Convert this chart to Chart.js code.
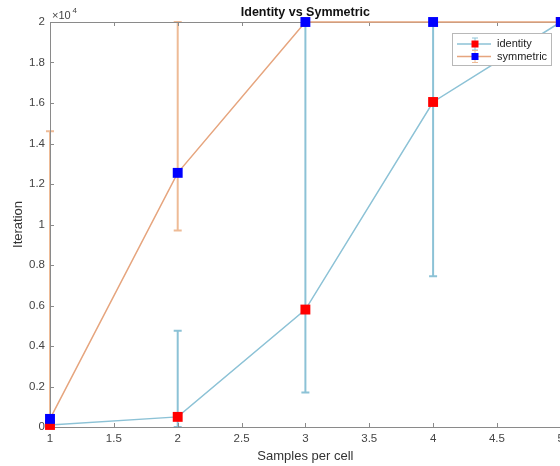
<!DOCTYPE html>
<html>
<head>
<meta charset="utf-8">
<script src="https://cdn.jsdelivr.net/npm/chart.js@4/dist/chart.umd.min.js"></script>
<style>
html,body{margin:0;padding:0;overflow:hidden;background:#fff;}
#wrap{width:569px;height:466px;}
canvas{display:block;}
</style>
</head>
<body>
<div id="wrap"><canvas id="c" width="569" height="466" style="width:569px;height:466px"></canvas></div>
<script>
// ---- data ----
const samples = [1, 2, 3, 4, 5];
const identityMean  = [100, 500, 5800, 16050, 20000];
const identityLow   = [100, 0, 1700, 7450, 20000];
const identityHigh  = [100, 4750, 20000, 20000, 20000];
const symmetricMean = [400, 12550, 20000, 20000, 20000];
const symmetricLow  = [0, 9700, 20000, 20000, 20000];
const symmetricHigh = [14600, 20000, 20000, 20000, 20000];
const seriesNames = ['identity', 'symmetric'];
const chartTitle = 'Identity vs Symmetric';
const xTitle = 'Samples per cell';
const yTitle = 'Iteration';

const FONT = "'Liberation Sans', Arial, sans-serif";
const C_ID_LINE = '#8cc2d6';
const C_SY_LINE = '#e6a57e';
const C_SY_ERR = '#eebb96';
const AX = '#8a8a8a';

const toPts = (xs, ys) => xs.map((x, i) => ({x: x, y: ys[i]}));

const errorBars = {
  id: 'errorBars',
  beforeDatasetsDraw(chart) {
    const {ctx, chartArea: a, scales: {x, y}} = chart;
    const sets = [
      {lo: identityLow, hi: identityHigh, c: C_ID_LINE},
      {lo: symmetricLow, hi: symmetricHigh, c: C_SY_ERR}
    ];
    ctx.save();
    ctx.beginPath();
    ctx.rect(a.left - 6, a.top - 1, a.right - a.left + 12, a.bottom - a.top + 2);
    ctx.clip();
    sets.forEach(s => {
      ctx.strokeStyle = s.c;
      ctx.lineWidth = 2;
      samples.forEach((sx, i) => {
        const px = x.getPixelForValue(sx);
        const y1 = y.getPixelForValue(s.lo[i]);
        const y2 = y.getPixelForValue(s.hi[i]);
        if (Math.abs(y1 - y2) < 0.5) return;
        ctx.beginPath();
        ctx.moveTo(px, y1); ctx.lineTo(px, y2);
        ctx.moveTo(px - 4, y1); ctx.lineTo(px + 4, y1);
        ctx.moveTo(px - 4, y2); ctx.lineTo(px + 4, y2);
        ctx.stroke();
      });
    });
    ctx.restore();
  }
};

const frame = {
  id: 'frame',
  beforeDatasetsDraw(chart) {
    const {ctx, chartArea: a, scales: {x, y}} = chart;
    ctx.save();
    ctx.strokeStyle = AX;
    ctx.lineWidth = 1;
    ctx.beginPath();
    ctx.moveTo(a.left + 0.5, a.top + 0.5);
    ctx.lineTo(a.right, a.top + 0.5);
    ctx.moveTo(a.left + 0.5, a.top);
    ctx.lineTo(a.left + 0.5, a.bottom + 0.5);
    ctx.lineTo(a.right, a.bottom + 0.5);
    x.ticks.forEach(t => {
      const px = Math.round(x.getPixelForValue(t.value)) + 0.5;
      ctx.moveTo(px, a.bottom); ctx.lineTo(px, a.bottom - 4);
      ctx.moveTo(px, a.top); ctx.lineTo(px, a.top + 4);
    });
    y.ticks.forEach(t => {
      const py = Math.round(y.getPixelForValue(t.value)) + 0.5;
      ctx.moveTo(a.left, py); ctx.lineTo(a.left + 4, py);
    });
    ctx.stroke();
    ctx.restore();
  },
  afterDraw(chart) {
    const {ctx, chartArea: a} = chart;
    ctx.save();
    // title
    ctx.fillStyle = '#111';
    ctx.font = 'bold 12.5px ' + FONT;
    ctx.textAlign = 'center';
    ctx.textBaseline = 'middle';
    ctx.fillText(chartTitle, (a.left + a.right) / 2, 13);
    // exponent
    ctx.fillStyle = '#444';
    ctx.textAlign = 'left';
    ctx.font = '11px ' + FONT;
    ctx.fillText('\u00d710', 52, 16);
    ctx.font = '8px ' + FONT;
    ctx.fillText('4', 72.5, 11);
    // legend
    const bx = 452.5, by = 33.5, bw = 99, bh = 32;
    ctx.fillStyle = '#fff';
    ctx.fillRect(bx, by, bw, bh);
    ctx.strokeStyle = '#b8b8b8';
    ctx.lineWidth = 1;
    ctx.strokeRect(bx, by, bw, bh);
    const rows = [
      {name: seriesNames[0], line: C_ID_LINE, err: C_ID_LINE, mk: '#ff0000', y: 44},
      {name: seriesNames[1], line: C_SY_LINE, err: C_SY_ERR, mk: '#0000ff', y: 56.5}
    ];
    rows.forEach(r => {
      ctx.strokeStyle = r.line;
      ctx.lineWidth = 1.5;
      ctx.beginPath();
      ctx.moveTo(457, r.y); ctx.lineTo(491, r.y);
      ctx.stroke();
      ctx.strokeStyle = r.err;
      ctx.lineWidth = 1;
      ctx.beginPath();
      ctx.moveTo(475, r.y - 6); ctx.lineTo(475, r.y + 6);
      ctx.moveTo(472, r.y - 6); ctx.lineTo(478, r.y - 6);
      ctx.moveTo(472, r.y + 6); ctx.lineTo(478, r.y + 6);
      ctx.stroke();
      ctx.fillStyle = r.mk;
      ctx.fillRect(471.5, r.y - 3.5, 7, 7);
      ctx.fillStyle = '#222';
      ctx.font = '11px ' + FONT;
      ctx.textAlign = 'left';
      ctx.textBaseline = 'middle';
      ctx.fillText(r.name, 497, r.y);
    });
    ctx.restore();
  }
};

new Chart(document.getElementById('c'), {
  type: 'line',
  data: {
    datasets: [
      {
        label: seriesNames[0],
        data: toPts(samples, identityMean),
        order: 1,
        borderColor: C_ID_LINE,
        borderWidth: 1.5,
        pointStyle: 'rect',
        pointRadius: 7,
        pointBackgroundColor: '#ff0000',
        pointBorderColor: '#ff0000',
        pointBorderWidth: 0,
        tension: 0,
        clip: false
      },
      {
        label: seriesNames[1],
        data: toPts(samples, symmetricMean),
        order: 0,
        borderColor: C_SY_LINE,
        borderWidth: 1.5,
        pointStyle: 'rect',
        pointRadius: 7,
        pointBackgroundColor: '#0000ff',
        pointBorderColor: '#0000ff',
        pointBorderWidth: 0,
        tension: 0,
        clip: false
      }
    ]
  },
  options: {
    responsive: false,
    animation: false,
    devicePixelRatio: 1,
    layout: {padding: {top: 22, right: 3, left: 0, bottom: 0}},
    plugins: {legend: {display: false}, title: {display: false}, tooltip: {enabled: false}},
    scales: {
      x: {
        type: 'linear', min: 1, max: 5,
        grid: {display: false, drawTicks: false},
        border: {display: false},
        ticks: {
          stepSize: 0.5, padding: 5, color: '#444',
          font: {family: FONT, size: 11.5},
          maxRotation: 0, autoSkip: false,
          callback: v => String(+v.toFixed(1))
        },
        title: {display: true, text: xTitle, color: '#333', font: {family: FONT, size: 13}, padding: {top: 0, bottom: 2}},
        afterFit: s => { s.height = 39; }
      },
      y: {
        min: 0, max: 20000,
        grid: {display: false, drawTicks: false},
        border: {display: false},
        ticks: {
          stepSize: 2000, padding: 5, color: '#444',
          font: {family: FONT, size: 11.5},
          callback: v => String(+(v / 10000).toFixed(1))
        },
        title: {display: true, text: yTitle, color: '#333', font: {family: FONT, size: 13}, padding: {top: 11, bottom: 0}},
        afterFit: s => { s.width = 50; }
      }
    }
  },
  plugins: [errorBars, frame]
});
</script>
</body>
</html>
